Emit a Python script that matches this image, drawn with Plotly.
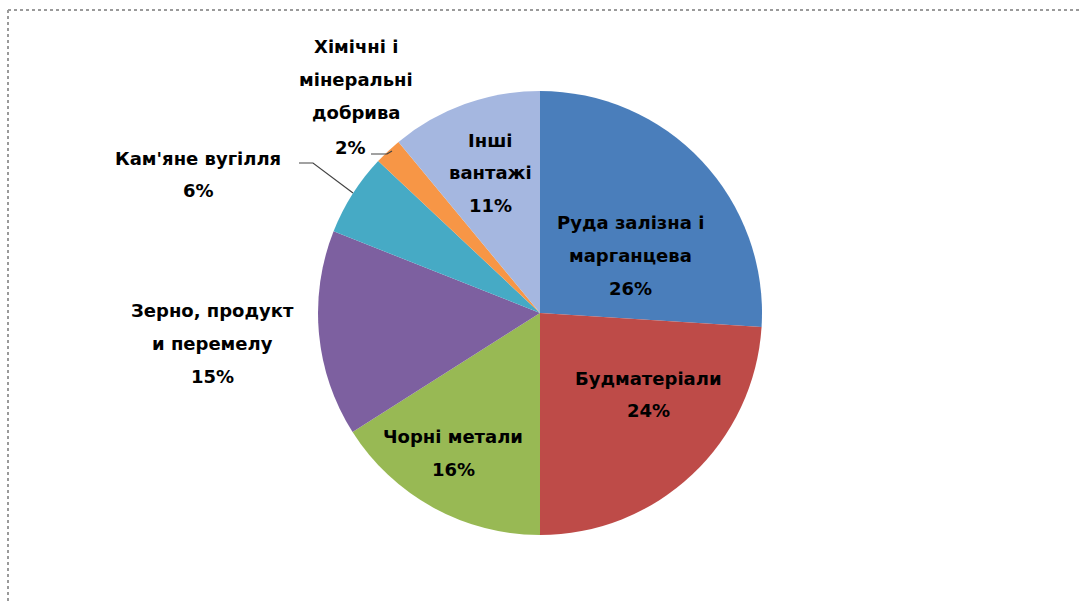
import plotly.graph_objects as go

W, H = 1080, 601

categories = ["Руда залізна і марганцева", "Будматеріали", "Чорні метали",
              "Зерно, продукт и перемелу", "Кам'яне вугілля",
              "Хімічні і мінеральні добрива", "Інші вантажі"]
values = [26, 24, 16, 15, 6, 2, 11]
colors = ["#4A7EBB", "#BE4B48", "#98B954", "#7D60A0", "#46AAC5", "#F79646", "#A5B7E0"]

# label lines as shown in the chart (category text broken over lines)
label_lines = [
    ["Руда залізна і", "марганцева"],
    ["Будматеріали"],
    ["Чорні метали"],
    ["Зерно, продукт", "и перемелу"],
    ["Кам'яне вугілля"],
    ["Хімічні і", "мінеральні", "добрива"],
    ["Інші", "вантажі"],
]
# label anchor (pixel centre of first line) and line spacing
label_pos = [(630, 222), (648, 378), (453, 436), (212, 310), (198, 158), (356, 46), (490, 140)]
pct_pos = [None, None, None, None, None, (350, 147), None]
LINE = 33

def px(x):
    return x / W

def py(y):
    return 1 - y / H

fig = go.Figure()
fig.add_trace(go.Pie(
    labels=categories, values=values, sort=False, direction="clockwise", rotation=0,
    marker=dict(colors=colors, line=dict(width=0)),
    textinfo="none", hoverinfo="label+percent", showlegend=False,
    domain=dict(x=[px(318), px(762)], y=[py(535), py(91)]),
))

font = dict(family="DejaVu Sans, sans-serif", size=18, color="#000000")
annotations = []
for i, lines in enumerate(label_lines):
    x0, y0 = label_pos[i]
    total = sum(values)
    pct = f"{round(values[i] / total * 100)}%"
    for j, t in enumerate(lines):
        annotations.append(dict(x=px(x0), y=py(y0 + j * LINE), xref="paper", yref="paper",
                                text=f"<b>{t}</b>", showarrow=False, font=font,
                                xanchor="center", yanchor="middle"))
    if pct_pos[i] is not None:
        ppx, ppy = pct_pos[i]
    else:
        ppx, ppy = x0, y0 + len(lines) * LINE
    annotations.append(dict(x=px(ppx), y=py(ppy), xref="paper", yref="paper",
                            text=f"<b>{pct}</b>", showarrow=False, font=font,
                            xanchor="center", yanchor="middle"))

shapes = [
    # chart area frame (dashed gray)
    dict(type="line", xref="paper", yref="paper", x0=px(8), y0=py(10), x1=1, y1=py(10),
         line=dict(color="#9A9A9A", width=2, dash="dot")),
    dict(type="line", xref="paper", yref="paper", x0=px(8), y0=py(10), x1=px(8), y1=0,
         line=dict(color="#9A9A9A", width=2, dash="dot")),
    # leader lines
    dict(type="path", xref="paper", yref="paper",
         path=f"M {px(299)} {py(163)} L {px(313)} {py(163)} L {px(353)} {py(193)}",
         line=dict(color="#444444", width=1.2)),
    dict(type="path", xref="paper", yref="paper",
         path=f"M {px(371)} {py(154)} L {px(387)} {py(154)} L {px(392)} {py(151)}",
         line=dict(color="#444444", width=1.2)),
]

fig.update_layout(
    width=W, height=H, margin=dict(l=0, r=0, t=0, b=0),
    paper_bgcolor="white", plot_bgcolor="white",
    annotations=annotations, shapes=shapes,
)
fig.write_html("out.html")
